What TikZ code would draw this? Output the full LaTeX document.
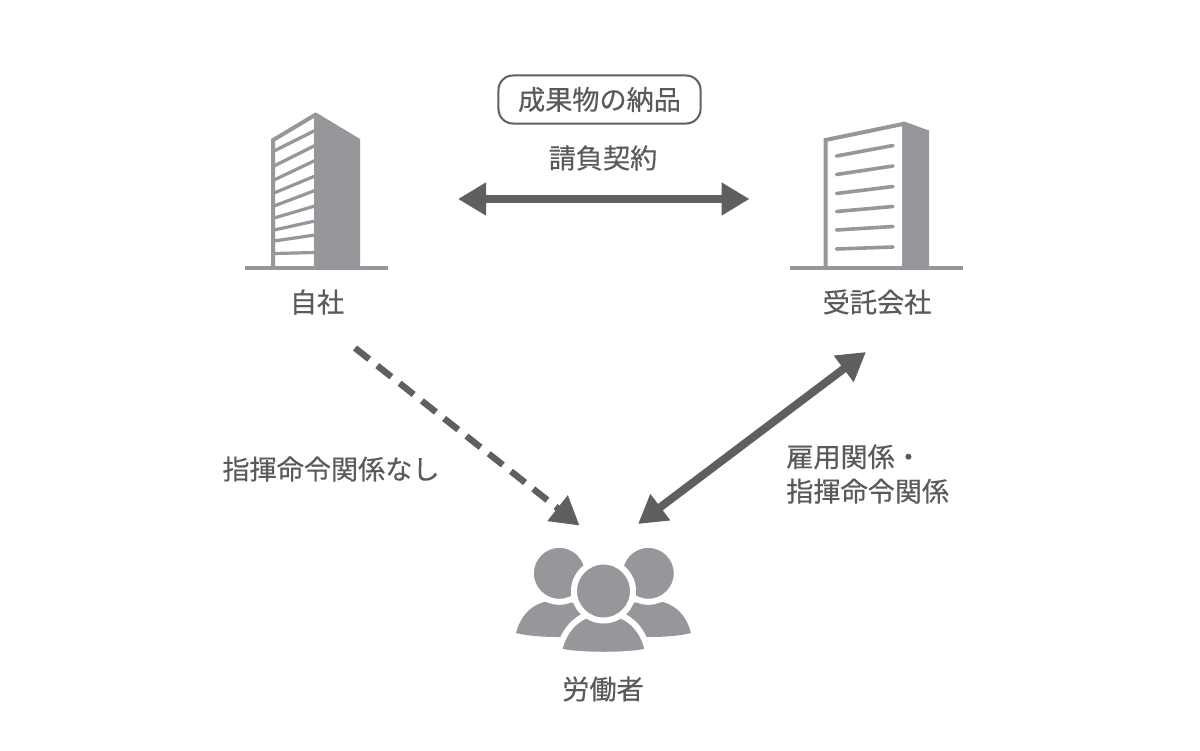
\documentclass[tikz,border=0pt]{standalone}
\usepackage{fontspec}
\setmainfont[FakeBold=0.35]{Noto Sans CJK JP}
\usetikzlibrary{arrows.meta,positioning}
\definecolor{icongray}{HTML}{96979A}
\definecolor{arrowgray}{HTML}{5F5F5F}
\definecolor{textgray}{HTML}{5A5A5A}
\tikzset{
  label text/.style={text=textgray,inner sep=0pt,font=\fontsize{19.3}{24.5}\selectfont},
  link arrow/.style={draw=arrowgray,line width=0.2cm,>={Triangle[length=0.7cm,width=0.78cm]}},
  icon fill/.style={fill=icongray,draw=none},
  icon line/.style={draw=icongray},
  person/.style={fill=icongray,draw=white,line width=0.15cm}
}
\begin{document}
\begin{tikzpicture}[x=0.025cm,y=-0.025cm]
    \useasboundingbox (0,0) rectangle (1200,750);
    \fill[white] (0,0) rectangle (1200,750);

    % Immeuble de gauche
    \draw[icon line,line width=0.1cm] (245,267.5) -- (388,267.5);
    \fill[icon fill] (314,268) -- (314,113) -- (316,112.5) -- (360,139) -- (360,268) -- cycle;
    \draw[icon line,line width=0.1cm] (273.2,268) -- (273.2,140) -- (315,115);
    \foreach \yl/\yr in {151/131.5,166/146.5,180/161.5,193/177,206/191.5,218/207,230/222,241/236,253.5/253.5}
        \draw[icon line,line width=0.08cm] (274,\yl) -- (315,\yr-1);

    % Immeuble de droite
    \draw[icon line,line width=0.1cm] (790,267.5) -- (963,267.5);
    \fill[icon fill] (902,268) -- (902,122) -- (904,121.5) -- (929,130.5) -- (929,268) -- cycle;
    \draw[icon line,line width=0.1cm] (825.5,268) -- (825.5,140) -- (903,124);
    \foreach \yl/\yr in {156/145.5,174.5/166,193.5/186.5,211.5/206.5,230/226.5,249/247}
        \draw[icon line,line width=0.09cm,line cap=round] (836.5,\yl) -- (893,\yr);

    % Les trois personnes
    \fill[icon fill] (516,633) .. controls (522,610) and (538,600) .. (559,600)
        .. controls (575,600) and (590,610) .. (600,640) -- (558,637)
        .. controls (543,637) and (528,636) .. (516,633) -- cycle;
    \fill[icon fill] (691,633) .. controls (685,610) and (669,600) .. (648,600)
        .. controls (632,600) and (617,610) .. (607,640) -- (649,637)
        .. controls (664,637) and (679,636) .. (691,633) -- cycle;
    \path[person] (559.3,573.3) circle (28.5);
    \path[person] (648.3,573.3) circle (28.5);
    \fill[icon fill] (559.3,573.3) circle (24.5);
    \fill[icon fill] (648.3,573.3) circle (24.5);
    \path[person] (559,651) .. controls (564,627) and (581,612) .. (603.5,612)
        .. controls (626,612) and (643,627) .. (648,651)
        .. controls (634,656) and (573,656) .. (559,651) -- cycle;
    \path[person] (603.5,591) circle (29.5);
    \fill[icon fill] (603.5,591) circle (25);

    % Les textes
    \node[label text] (jisha) at (317,302) {自社};
    \node[label text] (jutaku) at (877,302) {受託会社};
    \node[label text] (roudousha) at (603,689) {労働者};
    \node[label text,draw=arrowgray,line width=0.05cm,rounded corners=0.36cm,
        minimum width=5.05cm,minimum height=1.2cm] (nouhin) at (599.5,99.5) {成果物の納品};
    \node[label text] (keiyaku) at (603,158) {請負契約};
    \node[label text] (nashi) at (331,469) {指揮命令関係なし};
    \node[label text,anchor=west,align=left] (koyou) at (786,474) {雇用関係・\\指揮命令関係};

    % Les flèches
    \coordinate (contratG) at (458,199);
    \coordinate (contratD) at (749.5,199);
    \coordinate (ordreA) at (355,348);
    \coordinate (ordreB) at (579.5,525.5);
    \coordinate (emploiA) at (638,524);
    \coordinate (emploiB) at (866,352);
    \draw[link arrow,<->] (contratG) -- (contratD);
    \draw[link arrow,line width=0.16cm,dash pattern=on 0.45cm off 0.26cm,->] (ordreA) -- (ordreB);
    \draw[link arrow,<->] (emploiA) -- (emploiB);
\end{tikzpicture}
\end{document}
